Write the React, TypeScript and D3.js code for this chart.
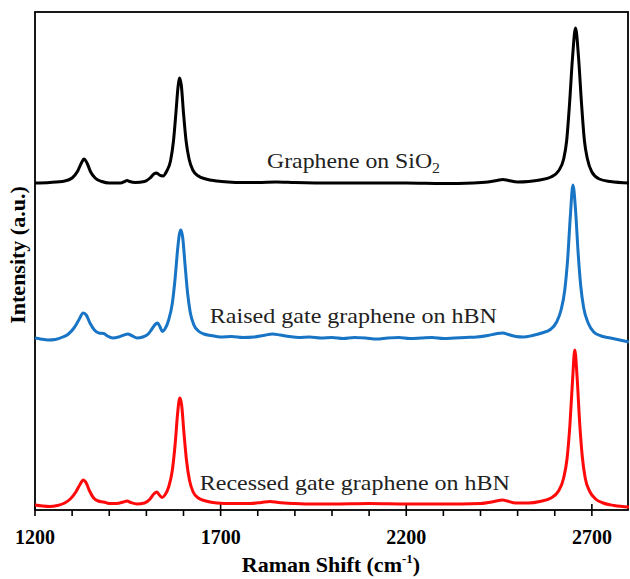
import React, { useEffect, useRef } from 'react';
import * as d3 from 'd3';

// Raman spectra, [shift (cm-1), intensity above baseline (a.u.)]
const sio2: [number, number][] = [
  [1200, 0], [1240, 0.5], [1280, 2], [1300, 5], [1315, 12], [1325, 20], [1332, 24],
  [1340, 20], [1350, 11], [1362, 5], [1380, 1.5], [1400, 0], [1430, 0], [1442, 1.5],
  [1448, 2.5], [1455, 1.5], [1470, 0.5], [1495, 1.5], [1510, 5], [1520, 9], [1528, 10],
  [1535, 8], [1545, 7], [1555, 12], [1565, 22], [1573, 42], [1580, 72], [1585, 95],
  [1589, 105], [1594, 98], [1600, 70], [1607, 42], [1615, 24], [1625, 13], [1640, 7],
  [1660, 4], [1690, 2], [1720, 1], [1760, 0.5], [1800, 0.5], [1850, 1], [1900, 0.5],
  [2000, 0], [2100, 0], [2200, 0], [2300, -0.5], [2380, 0], [2420, 1], [2445, 2.5],
  [2460, 3.5], [2475, 2.5], [2500, 1], [2530, 1.5], [2560, 3], [2590, 6], [2610, 12],
  [2624, 24], [2632, 42], [2640, 80], [2648, 126], [2656, 155], [2664, 126], [2672, 80],
  [2680, 42], [2688, 24], [2700, 11], [2720, 4], [2750, 1.5], [2800, 0],
];

const raised: [number, number][] = [
  [1200, 0], [1215, -1], [1235, -2], [1255, -1.5], [1275, 1], [1290, 4], [1305, 10],
  [1318, 18], [1330, 25], [1338, 23], [1348, 15], [1360, 8], [1372, 5], [1385, 4.5],
  [1395, 2], [1410, 0], [1425, 1], [1440, 3], [1450, 4], [1460, 2.5], [1475, 0],
  [1490, 1], [1505, 4], [1515, 9], [1525, 14], [1530, 15], [1537, 11], [1543, 6.5],
  [1550, 9], [1560, 18], [1570, 35], [1578, 62], [1584, 88], [1589, 104], [1593, 108],
  [1598, 100], [1604, 74], [1611, 45], [1618, 26], [1628, 13], [1640, 7], [1655, 4],
  [1675, 2.5], [1700, 1], [1730, 1.5], [1760, 0.5], [1790, 1], [1815, 2.5], [1840, 4],
  [1860, 3], [1885, 1.5], [1910, 0.5], [1940, 1], [1970, 0], [2000, 0.5], [2030, -0.5],
  [2060, 0.5], [2090, 0], [2120, -1], [2150, 0], [2180, 0.5], [2210, -0.5], [2240, 0],
  [2270, 0.5], [2300, -0.5], [2330, 0], [2360, 0.5], [2390, 1], [2420, 2.5], [2445, 4.5],
  [2460, 5], [2475, 3.5], [2495, 1.5], [2515, 1], [2540, 2.5], [2565, 5], [2590, 9],
  [2605, 16], [2617, 28], [2627, 48], [2635, 80], [2642, 122], [2649, 153], [2656, 128],
  [2663, 85], [2670, 52], [2678, 30], [2690, 15], [2705, 6], [2725, 2], [2750, 0],
  [2775, -2], [2800, -4],
];

const recessed: [number, number][] = [
  [1200, -1], [1220, -2], [1240, -2.5], [1260, -1.5], [1280, 1], [1295, 5], [1310, 12],
  [1322, 20], [1330, 24], [1338, 21], [1347, 13], [1358, 6], [1370, 3], [1385, 2],
  [1400, 0.5], [1420, 0.5], [1438, 2], [1448, 3], [1458, 1.5], [1475, 0], [1495, 1],
  [1510, 5], [1520, 10], [1528, 12], [1535, 9], [1542, 6.5], [1550, 9], [1560, 17],
  [1570, 34], [1578, 62], [1584, 90], [1590, 106], [1595, 99], [1601, 72], [1608, 44],
  [1616, 24], [1626, 12], [1640, 6], [1660, 3], [1690, 1], [1730, 0.5], [1780, 0.5],
  [1810, 1.5], [1833, 2.5], [1855, 1.5], [1900, 0.5], [1950, 0], [2000, 0], [2100, 0.5],
  [2200, 0], [2300, 0], [2400, 0.5], [2430, 2], [2450, 3.5], [2460, 4], [2472, 3],
  [2495, 1], [2530, 1], [2560, 2.5], [2590, 6], [2610, 13], [2624, 26], [2633, 45],
  [2641, 80], [2648, 124], [2654, 154], [2660, 128], [2667, 82], [2674, 48], [2682, 26],
  [2695, 12], [2710, 5], [2730, 1], [2760, -1.5], [2800, -3],
];

const seriesNames = ['Graphene on SiO', 'Raised gate graphene on hBN', 'Recessed gate graphene on hBN'];
const offsets = [327, 172, 6];
const majorTicks = [1200, 1700, 2200, 2700];

const W = 630, H = 579;
const left = 35, right = 628, top = 12, bottom = 510;
const serif = '"Liberation Serif", "DejaVu Serif", serif';

export default function App() {
  const ref = useRef<SVGSVGElement>(null);

  useEffect(() => {
    const svg = d3.select(ref.current);
    svg.selectAll('*').remove();

    const x = d3.scaleLinear().domain([1200, 2800]).range([left, left + 1600 * 0.37125]);
    const y = d3.scaleLinear().domain([0, 498]).range([bottom, top]);

    svg.append('rect')
      .attr('x', left).attr('y', top)
      .attr('width', right - left).attr('height', bottom - top)
      .attr('fill', 'none').attr('stroke', '#000').attr('stroke-width', 1.8);

    // minor ticks point outward, major ones cross the axis
    const minor = d3.range(1300, 2800, 100).filter(v => !majorTicks.includes(v));
    svg.append('g').selectAll('line').data(minor).join('line')
      .attr('x1', d => x(d)).attr('x2', d => x(d))
      .attr('y1', bottom).attr('y2', bottom + 6)
      .attr('stroke', '#000').attr('stroke-width', 1.6);
    svg.append('g').selectAll('line').data(majorTicks).join('line')
      .attr('x1', d => x(d)).attr('x2', d => x(d))
      .attr('y1', bottom - 6).attr('y2', bottom + 6)
      .attr('stroke', '#000').attr('stroke-width', 1.6);

    svg.append('g').selectAll('text').data(majorTicks).join('text')
      .attr('x', d => x(d)).attr('y', 544)
      .attr('text-anchor', 'middle')
      .attr('font-family', serif).attr('font-weight', 'bold').attr('font-size', 20)
      .text(d => d);

    const xt = svg.append('text')
      .attr('x', 331).attr('y', 572)
      .attr('text-anchor', 'middle')
      .attr('font-family', serif).attr('font-weight', 'bold').attr('font-size', 22);
    xt.append('tspan').text('Raman Shift (cm');
    xt.append('tspan').attr('font-size', 13).attr('dy', -9).text('-1');
    xt.append('tspan').attr('dy', 9).text(')');

    svg.append('text')
      .attr('transform', 'translate(25,255) rotate(-90)')
      .attr('text-anchor', 'middle')
      .attr('font-family', serif).attr('font-weight', 'bold').attr('font-size', 22)
      .text('Intensity (a.u.)');

    const colors = ['#000000', '#1874c4', '#ff0a0a'];
    const data = [sio2, raised, recessed];
    data.forEach((s, i) => {
      const line = d3.line<[number, number]>()
        .x(d => x(d[0]))
        .y(d => y(d[1] + offsets[i]))
        .curve(d3.curveMonotoneX);
      svg.append('path')
        .attr('d', line(s))
        .attr('fill', 'none')
        .attr('stroke', colors[i])
        .attr('stroke-width', 3)
        .attr('stroke-linejoin', 'round');
    });

    const labelAt = [[1825, 168, 173], [1671, 323, 287], [1644, 490, 310]];
    labelAt.forEach(([sx, by, len], i) => {
      const t = svg.append('text')
        .attr('x', x(sx)).attr('y', by)
        .attr('font-family', serif).attr('font-size', 21)
        .attr('fill', '#222')
        .attr('textLength', len).attr('lengthAdjust', 'spacingAndGlyphs');
      t.append('tspan').text(seriesNames[i]);
      if (i === 0) t.append('tspan').attr('font-size', 14).attr('dy', 5).text('2');
    });
  }, []);

  return (
    <div style={{ position: 'absolute', left: 0, top: 0 }}>
      <svg ref={ref} width={W} height={H} style={{ display: 'block', background: '#fff' }} />
    </div>
  );
}
